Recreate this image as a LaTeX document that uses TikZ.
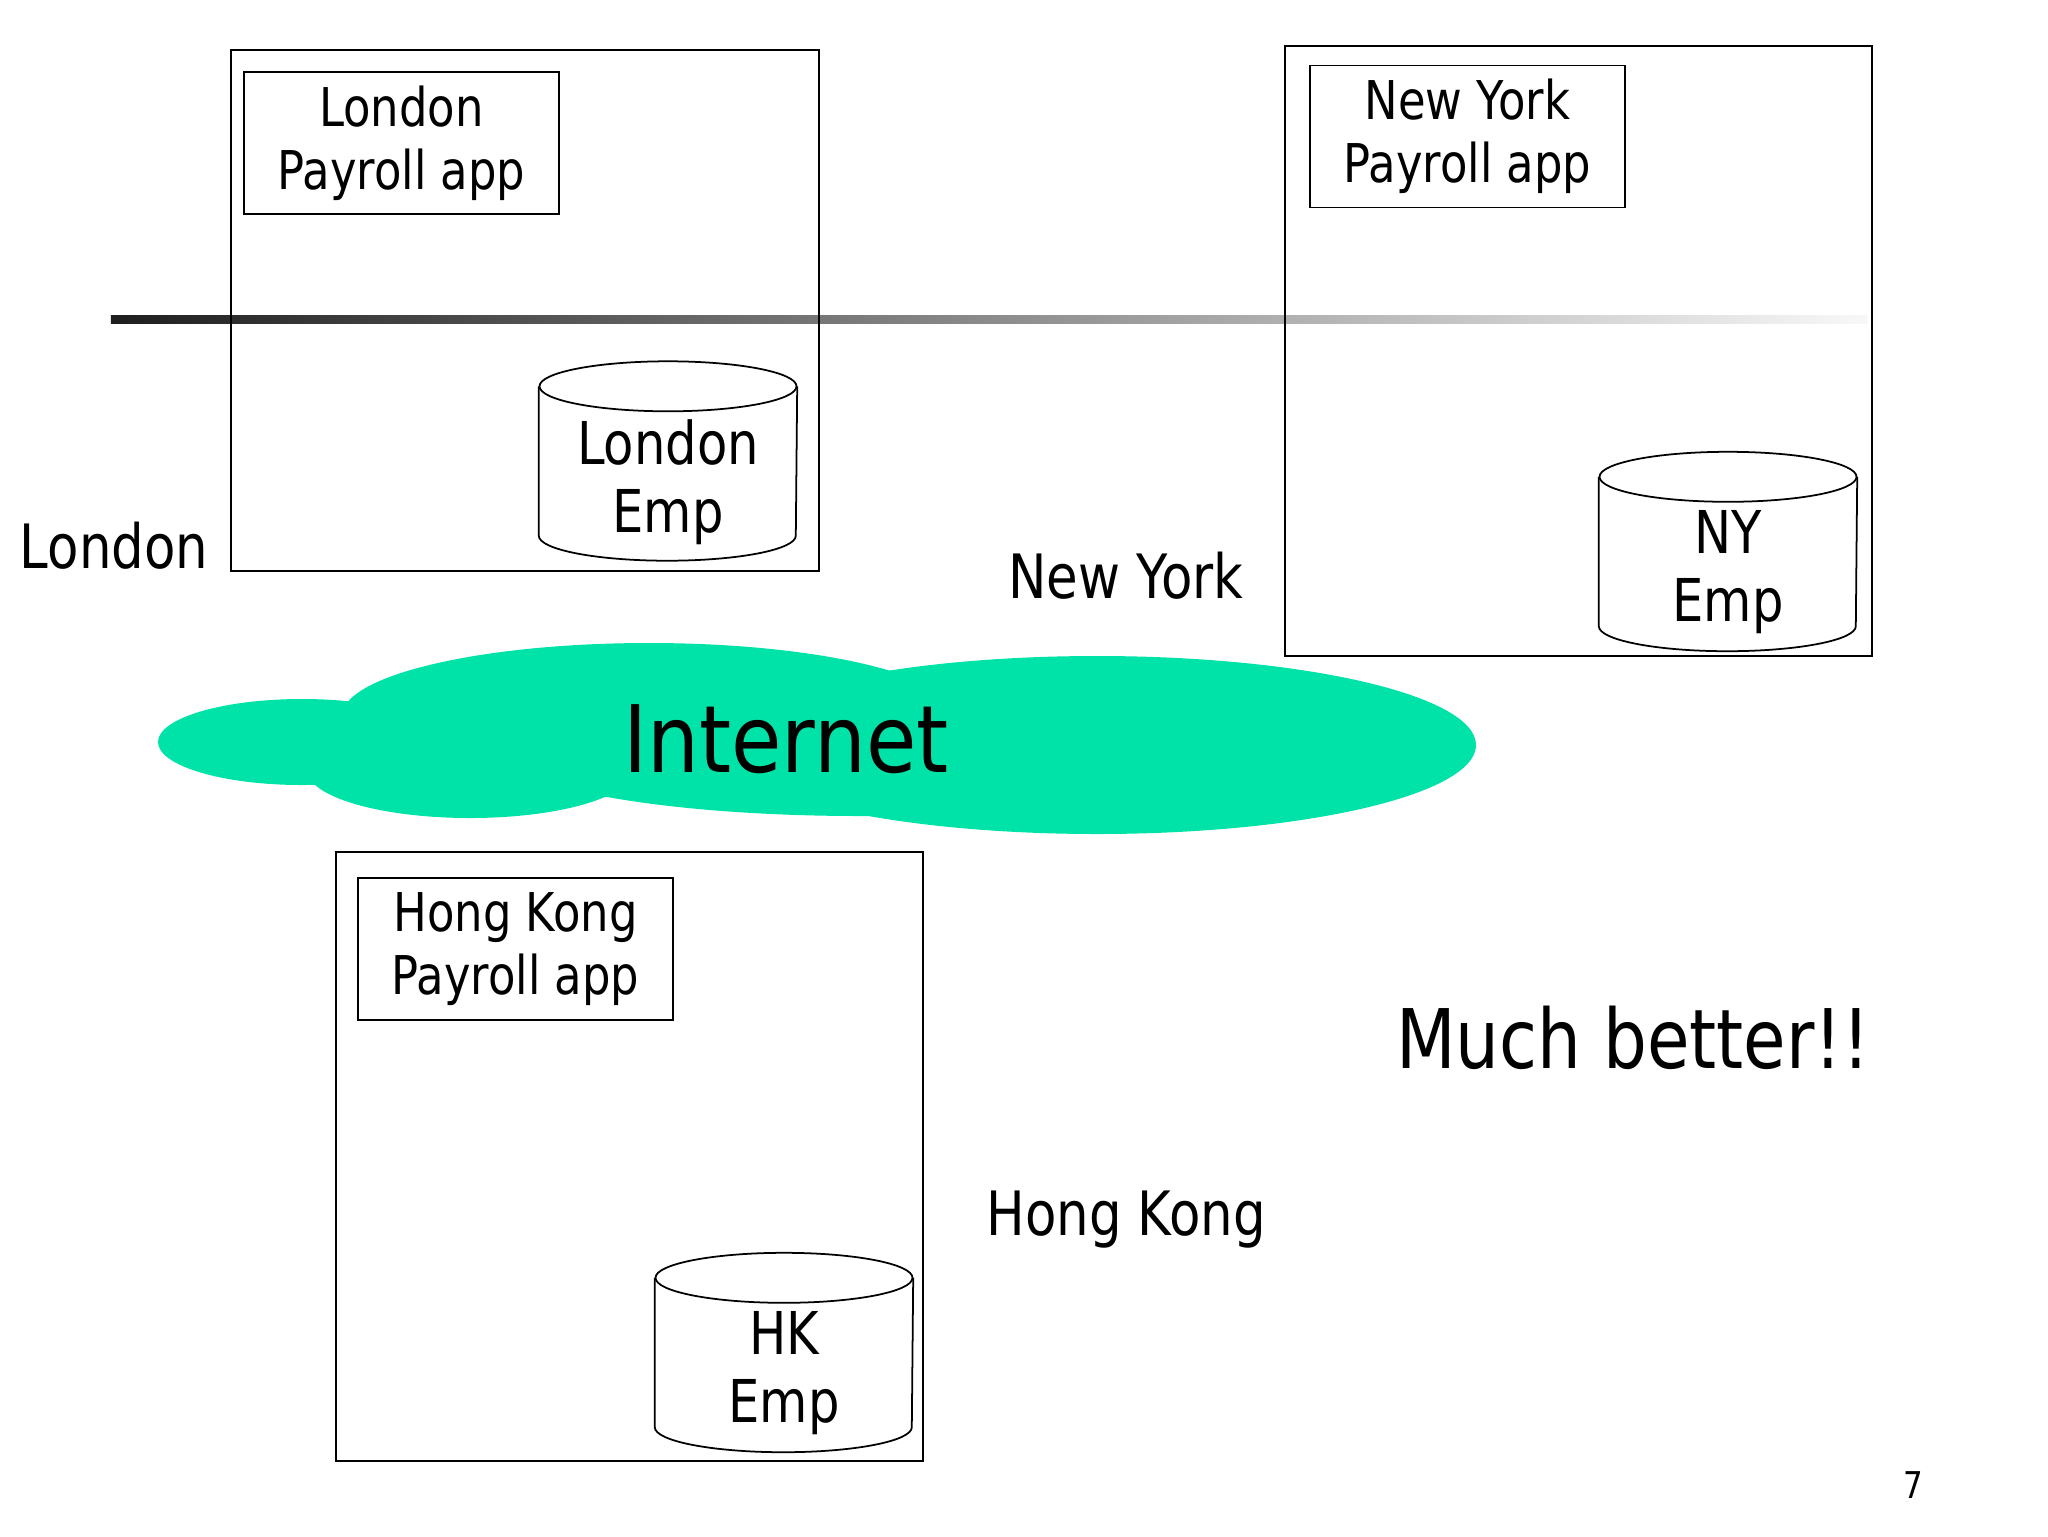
\documentclass[tikz,border=0pt]{standalone}
\usepackage{fontspec}
\setmainfont{DejaVu Sans}[FakeStretch=0.84]
\newfontfamily\cloudfont{DejaVu Sans}[FakeStretch=0.88]
\usetikzlibrary{shapes.geometric}
\definecolor{netGreen}{RGB}{0,227,168}
\definecolor{barDark}{RGB}{30,30,30}
\definecolor{barLight}{RGB}{248,248,248}

\begin{document}
\begin{tikzpicture}[
    x=1mm, y=-1mm,
    site/.style={rectangle, draw=black, line width=0.5pt, inner sep=0pt},
    app/.style={rectangle, draw=black, line width=0.5pt, minimum width=31.5mm, minimum height=14.2mm, inner sep=0pt, align=center, font=\fontsize{15.2}{18}\selectfont},
    db/.style={rectangle, minimum width=25.7mm, minimum height=19.8mm, inner sep=0pt, label={[dbtext]center:#1}},
    dbtext/.style={align=center, inner sep=0pt, yshift=-2.1mm, font=\fontsize{16.8}{19.3}\selectfont},
    dbline/.style={draw=black, line width=0.5pt},
    place/.style={inner sep=0pt, font=\fontsize{17.4}{20}\selectfont},
    blob/.style={shape=ellipse, fill=netGreen, inner sep=0pt},
    bar/.style={rectangle, inner sep=0pt, left color=barDark, right color=barLight}
  ]
    \useasboundingbox (0,0) rectangle (204.8,153.6);
    % shaded line first, boxes on top of it
    \node[bar, minimum width=175.7mm, minimum height=0.8mm] (wire) at (98.95,31.9) {};
    % London
    \node[site, minimum width=58.8mm, minimum height=52.1mm] (lonsite) at (52.5,31.05) {};
    \node[app] (lonapp) at (40.15,14.3) {London\\Payroll app};
    \node[db={London\\Emp}] (londb) at (66.8,46.1) {};
    \node[place] (lonname) at (11.4,54.6) {London};
    % New York
    \node[site, minimum width=58.7mm, minimum height=61.0mm] (nysite) at (157.85,35.1) {};
    \node[app] (nyapp) at (146.75,13.65) {New York\\Payroll app};
    \node[db={NY\\Emp}] (nydb) at (172.8,55.15) {};
    \node[place] (nyname) at (112.6,57.6) {New York};
    % the cloud
    \node[blob, minimum width=75.8mm, minimum height=17.8mm] (netbig) at (109.7,74.5) {};
    \node[blob, minimum width=61.4mm, minimum height=14.6mm] (nettop) at (64.9,71.6) {};
    \node[blob, minimum width=72.0mm, minimum height=13.2mm] (netmid) at (86.0,75.0) {};
    \node[blob, minimum width=28.8mm, minimum height=8.6mm] (netleft) at (30.2,74.2) {};
    \node[blob, minimum width=32.6mm, minimum height=9.6mm] (netlow) at (47.0,77.0) {};
    \node[inner sep=0pt, font=\cloudfont\fontsize{26.5}{30}\selectfont] (nettext) at (78.6,73.9) {Internet};
    % Hong Kong
    \node[site, minimum width=58.7mm, minimum height=60.9mm] (hksite) at (62.95,115.65) {};
    \node[app] (hkapp) at (51.55,94.9) {Hong Kong\\Payroll app};
    \node[db={HK\\Emp}] (hkdb) at (78.4,135.25) {};
    \node[place] (hkname) at (112.6,122.0) {Hong Kong};
    \node[inner sep=0pt, font=\fontsize{23.4}{27}\selectfont] (verdict) at (163.3,103.8) {Much better!!};
    \node[inner sep=0pt, font=\fontsize{10.5}{12}\selectfont] (pagenum) at (191.3,148.5) {7};
    % the database drums
    \foreach \drum in {londb, nydb, hkdb} {
      \draw[dbline] ([yshift=-2.5mm]\drum.north west) -- ([yshift=2.5mm]\drum.south west)
        arc[start angle=180, end angle=360, x radius=12.85mm, y radius=2.5mm]
        -- ([yshift=-2.5mm]\drum.north east);
      \draw[dbline] ([yshift=-2.5mm]\drum.north) ellipse [x radius=12.85mm, y radius=2.5mm];
    }
\end{tikzpicture}
\end{document}
